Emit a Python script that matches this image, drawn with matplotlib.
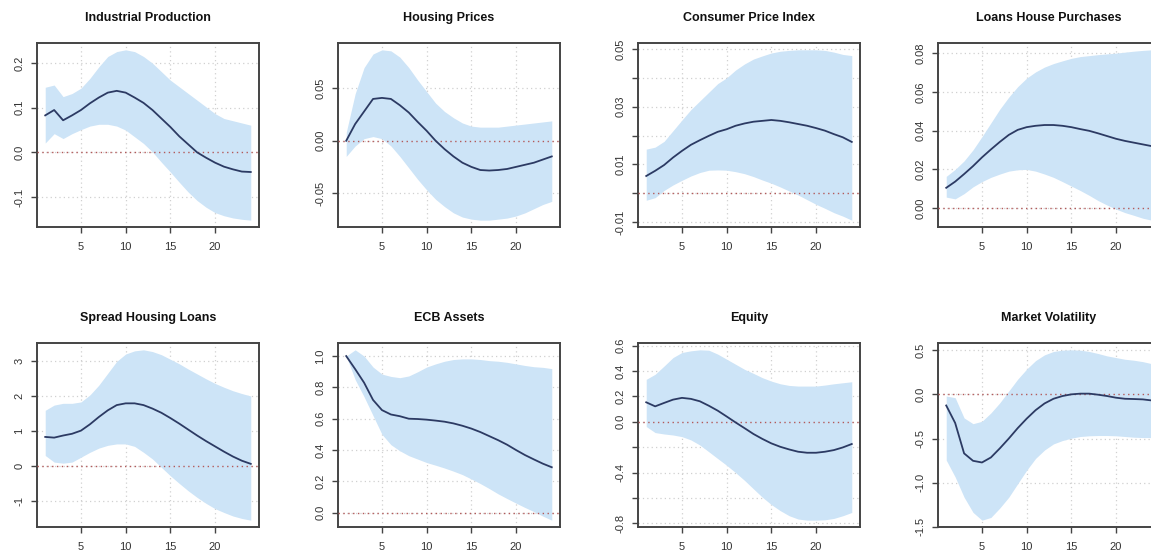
import matplotlib
matplotlib.use('Agg')
import matplotlib.pyplot as plt

plt.rcParams['font.family'] = ['Liberation Sans', 'DejaVu Sans']

HORIZON = list(range(1, 25))

TITLES = ['Industrial Production', 'Housing Prices', 'Consumer Price Index',
          'Loans House Purchases', 'Spread Housing Loans', 'ECB Assets',
          'Equity', 'Market Volatility']

# median responses
ip_mid = [0.083, 0.095, 0.072, 0.083, 0.095, 0.110, 0.123, 0.134, 0.138, 0.134, 0.123, 0.111,
          0.095, 0.076, 0.057, 0.036, 0.018, 0.000, -0.012, -0.023, -0.032, -0.038, -0.043, -0.044]
ip_hi = [0.146, 0.151, 0.125, 0.132, 0.144, 0.166, 0.192, 0.215, 0.226, 0.230, 0.226, 0.215,
         0.200, 0.181, 0.162, 0.147, 0.132, 0.117, 0.102, 0.087, 0.076, 0.071, 0.066, 0.061]
ip_lo = [0.021, 0.042, 0.031, 0.042, 0.051, 0.059, 0.063, 0.063, 0.059, 0.050, 0.035, 0.020,
         0.001, -0.022, -0.044, -0.067, -0.089, -0.108, -0.123, -0.135, -0.142, -0.147, -0.150, -0.152]

hp_mid = [0.000, 0.016, 0.028, 0.040, 0.041, 0.040, 0.034, 0.027, 0.018, 0.0095, 0.000, -0.008,
          -0.015, -0.021, -0.025, -0.028, -0.0285, -0.028, -0.027, -0.025, -0.023, -0.021, -0.018, -0.015]
hp_hi = [0.008, 0.045, 0.070, 0.083, 0.087, 0.086, 0.080, 0.070, 0.058, 0.047, 0.036, 0.028,
         0.022, 0.017, 0.014, 0.013, 0.013, 0.013, 0.014, 0.015, 0.016, 0.017, 0.018, 0.019]
hp_lo = [-0.015, -0.005, 0.002, 0.004, 0.002, -0.005, -0.015, -0.026, -0.037, -0.047, -0.056, -0.063,
         -0.069, -0.073, -0.075, -0.076, -0.076, -0.075, -0.074, -0.072, -0.069, -0.065, -0.061, -0.058]

cpi_mid = [0.0060, 0.0078, 0.0098, 0.0124, 0.0147, 0.0168, 0.0184, 0.0199, 0.0213, 0.0222, 0.0234, 0.0242,
           0.0248, 0.0251, 0.0254, 0.0251, 0.0246, 0.0240, 0.0234, 0.0226, 0.0217, 0.0205, 0.0194, 0.0178]
cpi_hi = [0.0153, 0.0160, 0.0180, 0.0217, 0.0254, 0.0290, 0.0320, 0.0350, 0.0380, 0.0400, 0.0427, 0.0448,
          0.0465, 0.0476, 0.0486, 0.0492, 0.0495, 0.0497, 0.0497, 0.0497, 0.0495, 0.0489, 0.0481, 0.0477]
cpi_lo = [-0.0024, -0.0015, 0.0010, 0.0029, 0.0045, 0.0060, 0.0072, 0.0080, 0.0081, 0.0080, 0.0075, 0.0068,
          0.0058, 0.0046, 0.0035, 0.0022, 0.0008, -0.0006, -0.0022, -0.0038, -0.0052, -0.0067, -0.0079, -0.0093]

lhp_mid = [0.0105, 0.0137, 0.0176, 0.0217, 0.0262, 0.0303, 0.0342, 0.0378, 0.0404, 0.0418, 0.0425, 0.0429,
           0.0429, 0.0425, 0.0418, 0.0408, 0.0399, 0.0386, 0.0372, 0.0358, 0.0347, 0.0338, 0.0329, 0.0320]
lhp_hi = [0.0164, 0.0200, 0.0244, 0.0301, 0.0369, 0.0440, 0.0511, 0.0573, 0.0627, 0.0671, 0.0703, 0.0728,
          0.0746, 0.0760, 0.0773, 0.0782, 0.0787, 0.0792, 0.0796, 0.0800, 0.0805, 0.0810, 0.0814, 0.0817]
lhp_lo = [0.0057, 0.0048, 0.0075, 0.0110, 0.0137, 0.0159, 0.0176, 0.0191, 0.0198, 0.0200, 0.0191, 0.0176,
          0.0159, 0.0137, 0.0114, 0.0091, 0.0066, 0.0039, 0.0016, -0.0005, -0.0023, -0.0037, -0.0052, -0.0062]

shl_mid = [0.82, 0.80, 0.86, 0.91, 1.00, 1.18, 1.39, 1.58, 1.73, 1.78, 1.78, 1.73,
           1.63, 1.51, 1.36, 1.20, 1.03, 0.86, 0.70, 0.55, 0.40, 0.26, 0.14, 0.05]
shl_hi = [1.58, 1.73, 1.78, 1.78, 1.82, 2.02, 2.30, 2.64, 2.98, 3.19, 3.28, 3.31,
          3.26, 3.17, 3.04, 2.91, 2.76, 2.62, 2.48, 2.35, 2.24, 2.14, 2.06, 1.99]
shl_lo = [0.29, 0.10, 0.07, 0.10, 0.24, 0.38, 0.50, 0.58, 0.62, 0.62, 0.55, 0.38,
          0.19, -0.05, -0.29, -0.51, -0.72, -0.91, -1.08, -1.23, -1.34, -1.44, -1.51, -1.56]

ecb_mid = [1.00, 0.917, 0.83, 0.72, 0.655, 0.627, 0.616, 0.600, 0.598, 0.594, 0.588, 0.581,
           0.570, 0.555, 0.537, 0.515, 0.489, 0.463, 0.434, 0.400, 0.368, 0.340, 0.313, 0.290]
ecb_hi = [1.00, 1.04, 1.00, 0.93, 0.885, 0.870, 0.862, 0.873, 0.900, 0.930, 0.950, 0.967,
          0.978, 0.982, 0.982, 0.978, 0.971, 0.967, 0.960, 0.950, 0.940, 0.932, 0.928, 0.920]
ecb_lo = [1.00, 0.85, 0.74, 0.62, 0.50, 0.434, 0.395, 0.364, 0.342, 0.320, 0.303, 0.285,
          0.265, 0.243, 0.215, 0.186, 0.154, 0.120, 0.090, 0.061, 0.033, 0.007, -0.022, -0.048]

eq_mid = [0.154, 0.122, 0.149, 0.175, 0.189, 0.181, 0.162, 0.127, 0.088, 0.042, -0.005, -0.050,
          -0.096, -0.135, -0.170, -0.197, -0.218, -0.236, -0.244, -0.244, -0.236, -0.223, -0.202, -0.175]
eq_hi = [0.335, 0.375, 0.440, 0.507, 0.547, 0.560, 0.568, 0.565, 0.534, 0.494, 0.454, 0.414,
         0.382, 0.348, 0.321, 0.300, 0.287, 0.282, 0.282, 0.282, 0.290, 0.300, 0.308, 0.316]
eq_lo = [-0.037, -0.085, -0.096, -0.104, -0.117, -0.143, -0.183, -0.236, -0.290, -0.343, -0.401, -0.462,
         -0.529, -0.595, -0.653, -0.701, -0.741, -0.767, -0.776, -0.776, -0.773, -0.762, -0.741, -0.715]

mv_mid = [-0.126, -0.324, -0.668, -0.752, -0.771, -0.714, -0.611, -0.500, -0.382, -0.275, -0.179, -0.103,
          -0.050, -0.019, 0.000, 0.008, 0.008, -0.004, -0.019, -0.038, -0.050, -0.053, -0.057, -0.069]
mv_hi = [-0.019, -0.038, -0.267, -0.332, -0.305, -0.210, -0.095, 0.038, 0.172, 0.286, 0.382, 0.447,
         0.485, 0.500, 0.504, 0.500, 0.485, 0.462, 0.435, 0.416, 0.397, 0.386, 0.370, 0.347]
mv_lo = [-0.744, -0.935, -1.164, -1.336, -1.424, -1.393, -1.286, -1.164, -1.011, -0.859, -0.725, -0.630,
         -0.561, -0.523, -0.496, -0.477, -0.469, -0.466, -0.466, -0.469, -0.477, -0.485, -0.489, -0.489]

MID = [ip_mid, hp_mid, cpi_mid, lhp_mid, shl_mid, ecb_mid, eq_mid, mv_mid]
HI = [ip_hi, hp_hi, cpi_hi, lhp_hi, shl_hi, ecb_hi, eq_hi, mv_hi]
LO = [ip_lo, hp_lo, cpi_lo, lhp_lo, shl_lo, ecb_lo, eq_lo, mv_lo]

# y ticks (R drops some labels when they would overlap)
YTICKS = [
    [-0.1, 0.0, 0.1, 0.2],
    [-0.05, 0.0, 0.05],
    [-0.01, 0.0, 0.01, 0.02, 0.03, 0.04, 0.05],
    [0.0, 0.02, 0.04, 0.06, 0.08],
    [-1, 0, 1, 2, 3],
    [0.0, 0.2, 0.4, 0.6, 0.8, 1.0],
    [-0.8, -0.6, -0.4, -0.2, 0.0, 0.2, 0.4, 0.6],
    [-1.5, -1.0, -0.5, 0.0, 0.5],
]
YLABELS = [
    ['-0.1', '0.0', '0.1', '0.2'],
    ['-0.05', '0.00', '0.05'],
    ['-0.01', '', '0.01', '', '0.03', '', '0.05'],
    ['0.00', '0.02', '0.04', '0.06', '0.08'],
    ['-1', '0', '1', '2', '3'],
    ['0.0', '0.2', '0.4', '0.6', '0.8', '1.0'],
    ['-0.8', '', '-0.4', '', '0.0', '0.2', '0.4', '0.6'],
    ['-1.5', '-1.0', '-0.5', '0.0', '0.5'],
]
XTICKS = [5, 10, 15, 20]

BAND_COLOR = '#cde4f7'
LINE_COLOR = '#2c3a63'
ZERO_COLOR = '#b35a5a'
GRID_COLOR = '#d0d0d0'
BOX_COLOR = '#444444'

W, H = 1151, 554
COL_LEFT = [37, 338, 638, 938]
ROW_TOP = [43, 343]
AX_W, AX_H = 222, 184


def draw_panel(ax, i):
    ax.fill_between(HORIZON, LO[i], HI[i], color=BAND_COLOR, lw=0, zorder=2)
    ax.plot(HORIZON, MID[i], color=LINE_COLOR, lw=1.3, zorder=4)
    ax.axhline(0, color=ZERO_COLOR, lw=1.0, ls=(0, (1, 2.5)), zorder=3)
    ax.margins(x=0.04, y=0.04)
    ax.set_xticks(XTICKS)
    ax.set_xticklabels([str(t) for t in XTICKS])
    ax.set_yticks(YTICKS[i])
    ax.set_yticklabels(YLABELS[i], rotation=90, va='center')
    ax.grid(True, color=GRID_COLOR, ls=(0, (1, 2.5)), lw=0.9, zorder=1)
    ax.set_axisbelow(True)
    ax.tick_params(direction='out', length=4, width=1.0, color=BOX_COLOR,
                   labelsize=8, labelcolor='#333333')
    ax.tick_params(axis='x', pad=7)
    ax.tick_params(axis='y', pad=5)
    for sp in ax.spines.values():
        sp.set_color(BOX_COLOR)
        sp.set_linewidth(1.4)
    ax.set_title(TITLES[i], fontsize=9, fontweight='bold', pad=16, color='#111111')


fig = plt.figure(figsize=(W / 100, H / 100), dpi=100)
for i in range(8):
    r, c = divmod(i, 4)
    left = COL_LEFT[c] / W
    bottom = 1 - (ROW_TOP[r] + AX_H) / H
    ax = fig.add_axes([left, bottom, AX_W / W, AX_H / H])
    draw_panel(ax, i)

fig.savefig('out.png', dpi=100)
